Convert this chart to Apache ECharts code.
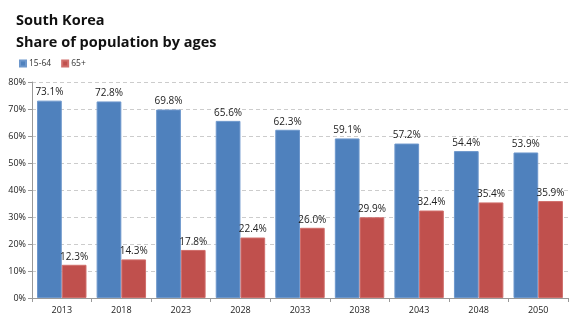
<!DOCTYPE html>
<html>
<head>
<meta charset="utf-8">
<script src="https://cdn.jsdelivr.net/npm/echarts@6/dist/echarts.min.js"></script>
<style>
  html, body { margin: 0; padding: 0; background: #fff; }
  #chart { width: 580px; height: 322px; }
</style>
</head>
<body>
<div id="chart"></div>
<script>
const years = ['2013', '2018', '2023', '2028', '2033', '2038', '2043', '2048', '2050'];
const working = [73.1, 72.8, 69.8, 65.6, 62.3, 59.1, 57.2, 54.4, 53.9];
const elderly = [12.3, 14.3, 17.8, 22.4, 26.0, 29.9, 32.4, 35.4, 35.9];
const yTicks = [0, 10, 20, 30, 40, 50, 60, 70, 80];

const chart = echarts.init(document.getElementById('chart'));

const labelStyle = {
  show: true,
  position: 'top',
  distance: 3,
  fontFamily: 'Open Sans',
  fontSize: 10,
  color: '#222',
  formatter: p => p.value.toFixed(1) + '%'
};

chart.setOption({
  animation: false,
  title: {
    text: 'South Korea\nShare of population by ages',
    left: 11,
    top: 5,
    textStyle: { fontFamily: 'Open Sans', fontWeight: 'bold', fontSize: 14.5, lineHeight: 22, color: '#111' }
  },
  legend: {
    left: 14,
    top: 54,
    itemWidth: 6,
    itemHeight: 6,
    itemGap: 10,
    icon: 'rect',
    textStyle: { fontFamily: 'Open Sans', fontSize: 8.5, color: '#333', padding: [0, 0, 0, -2] },
    data: ['15-64', '65+']
  },
  grid: { left: 32, right: 12, top: 82, bottom: 24 },
  xAxis: {
    type: 'category',
    data: years,
    axisLine: { lineStyle: { color: '#999' } },
    axisTick: { show: true, length: 4, lineStyle: { color: '#999' } },
    axisLabel: { fontFamily: 'Open Sans', fontSize: 9, color: '#222', margin: 8 }
  },
  yAxis: {
    type: 'value',
    min: yTicks[0],
    max: yTicks[yTicks.length - 1],
    interval: 10,
    axisLine: { show: true, lineStyle: { color: '#999' } },
    axisTick: { show: true, length: 4, inside: false, lineStyle: { color: '#999' } },
    axisLabel: { fontFamily: 'Open Sans', fontSize: 9, color: '#222', margin: 6, formatter: v => v + '%' },
    splitLine: { lineStyle: { color: '#ccc', type: [4, 3] } }
  },
  series: [
    {
      name: '15-64',
      type: 'bar',
      data: working,
      barGap: '0%',
      barCategoryGap: '17%',
      itemStyle: { color: '#4f81bd', borderColor: '#6d97cc', borderWidth: 1 },
      label: labelStyle
    },
    {
      name: '65+',
      type: 'bar',
      data: elderly,
      itemStyle: { color: '#c0504d', borderColor: '#d06e6b', borderWidth: 1 },
      label: labelStyle
    }
  ]
});
</script>
</body>
</html>
